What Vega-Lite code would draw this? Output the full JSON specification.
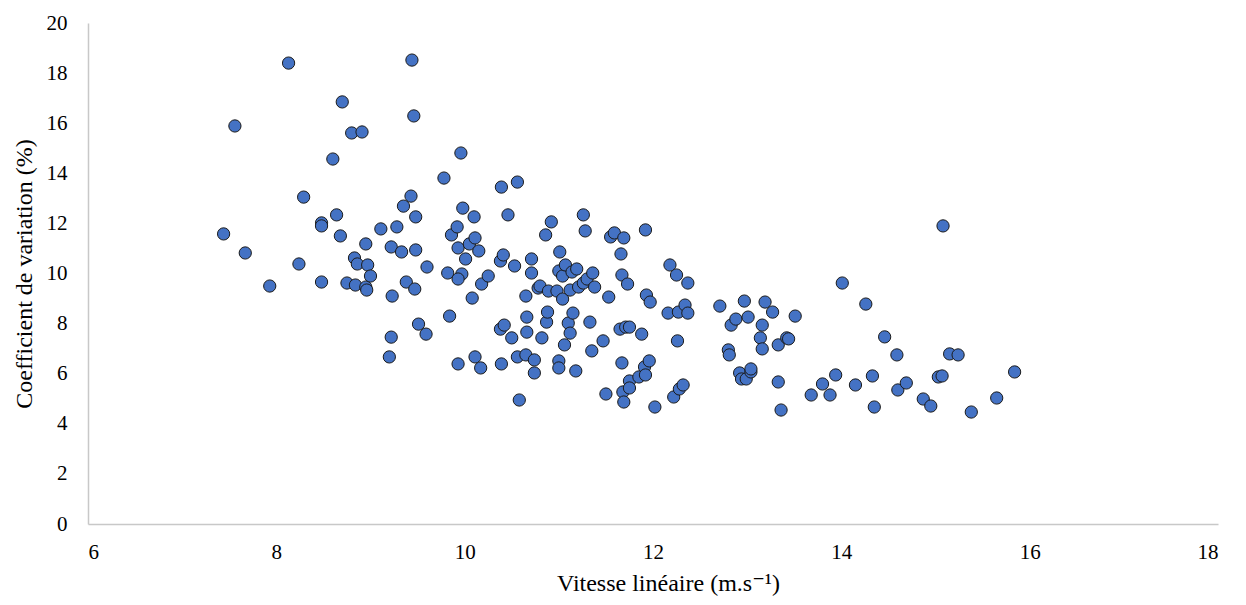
{
  "$schema": "https://vega.github.io/schema/vega-lite/v6.json",
  "width": 1130,
  "height": 501,
  "autosize": "none",
  "padding": {"left": 88, "top": 23, "right": 28, "bottom": 81},
  "background": "white",
  "config": {"view": {"stroke": null}, "font": "'Liberation Serif', 'Times New Roman', 'DejaVu Serif', serif"},
  "data": {"values": [
    {"v":7.44,"cv":11.58},{"v":7.56,"cv":15.89},{"v":7.67,"cv":10.82},{"v":7.93,"cv":9.50},{"v":8.13,"cv":18.40},
    {"v":8.24,"cv":10.38},{"v":8.29,"cv":13.05},{"v":8.48,"cv":12.02},{"v":8.48,"cv":11.90},{"v":8.48,"cv":9.66},
    {"v":8.64,"cv":12.34},{"v":8.60,"cv":14.57},{"v":8.70,"cv":16.85},{"v":8.68,"cv":11.50},{"v":8.75,"cv":9.62},
    {"v":8.80,"cv":15.61},{"v":8.91,"cv":15.65},{"v":8.83,"cv":10.62},{"v":8.86,"cv":10.38},{"v":8.84,"cv":9.54},
    {"v":8.95,"cv":11.18},{"v":8.97,"cv":10.34},{"v":8.95,"cv":9.46},{"v":8.96,"cv":9.34},{"v":9.00,"cv":9.90},
    {"v":9.11,"cv":11.78},{"v":9.22,"cv":11.06},{"v":9.20,"cv":6.67},{"v":9.22,"cv":7.46},{"v":9.23,"cv":9.10},
    {"v":9.28,"cv":11.86},{"v":9.35,"cv":12.69},{"v":9.33,"cv":10.86},{"v":9.38,"cv":9.66},{"v":9.43,"cv":13.09},
    {"v":9.44,"cv":18.52},{"v":9.46,"cv":16.29},{"v":9.48,"cv":12.26},{"v":9.48,"cv":10.94},{"v":9.47,"cv":9.38},
    {"v":9.51,"cv":7.98},{"v":9.59,"cv":7.58},{"v":9.60,"cv":10.26},{"v":9.78,"cv":13.81},{"v":9.82,"cv":10.02},
    {"v":9.84,"cv":8.30},{"v":9.86,"cv":11.54},{"v":9.92,"cv":11.86},{"v":9.93,"cv":6.39},{"v":9.93,"cv":11.02},
    {"v":9.96,"cv":14.81},{"v":9.97,"cv":9.98},{"v":9.98,"cv":12.61},{"v":9.93,"cv":9.78},{"v":10.01,"cv":10.58},
    {"v":10.05,"cv":11.18},{"v":10.10,"cv":12.26},{"v":10.11,"cv":11.42},{"v":10.08,"cv":9.02},{"v":10.11,"cv":6.67},
    {"v":10.15,"cv":10.90},{"v":10.18,"cv":9.58},{"v":10.17,"cv":6.23},{"v":10.25,"cv":9.90},{"v":10.38,"cv":10.50},
    {"v":10.41,"cv":10.74},{"v":10.39,"cv":13.45},{"v":10.38,"cv":7.78},{"v":10.42,"cv":7.94},{"v":10.39,"cv":6.39},
    {"v":10.46,"cv":12.34},{"v":10.50,"cv":7.43},{"v":10.53,"cv":10.30},{"v":10.56,"cv":13.65},{"v":10.56,"cv":6.67},
    {"v":10.58,"cv":4.95},{"v":10.65,"cv":9.10},{"v":10.66,"cv":8.26},{"v":10.66,"cv":7.66},{"v":10.65,"cv":6.75},
    {"v":10.71,"cv":10.58},{"v":10.71,"cv":10.02},{"v":10.74,"cv":6.55},{"v":10.74,"cv":6.03},{"v":10.78,"cv":9.42},
    {"v":10.80,"cv":9.50},{"v":10.82,"cv":7.43},{"v":10.86,"cv":11.54},{"v":10.87,"cv":8.06},{"v":10.88,"cv":8.46},
    {"v":10.89,"cv":9.30},{"v":10.92,"cv":12.06},{"v":10.98,"cv":9.30},{"v":11.01,"cv":10.86},{"v":11.00,"cv":10.10},
    {"v":11.00,"cv":6.51},{"v":11.00,"cv":6.23},{"v":11.04,"cv":8.98},{"v":11.04,"cv":9.90},{"v":11.06,"cv":7.15},
    {"v":11.07,"cv":10.34},{"v":11.10,"cv":8.02},{"v":11.12,"cv":7.62},{"v":11.12,"cv":9.34},{"v":11.14,"cv":10.06},
    {"v":11.15,"cv":8.42},{"v":11.18,"cv":6.11},{"v":11.21,"cv":9.46},{"v":11.19,"cv":10.18},{"v":11.26,"cv":9.62},
    {"v":11.26,"cv":12.34},{"v":11.28,"cv":11.70},{"v":11.30,"cv":9.78},{"v":11.33,"cv":8.06},{"v":11.35,"cv":6.91},
    {"v":11.36,"cv":10.02},{"v":11.38,"cv":9.46},{"v":11.47,"cv":7.31},{"v":11.50,"cv":5.19},{"v":11.53,"cv":9.06},
    {"v":11.55,"cv":11.46},{"v":11.59,"cv":11.62},{"v":11.65,"cv":7.78},{"v":11.66,"cv":10.78},{"v":11.67,"cv":9.94},
    {"v":11.69,"cv":11.42},{"v":11.67,"cv":6.43},{"v":11.68,"cv":5.27},{"v":11.69,"cv":4.87},{"v":11.71,"cv":7.86},
    {"v":11.73,"cv":9.58},{"v":11.75,"cv":7.86},{"v":11.75,"cv":5.71},{"v":11.75,"cv":5.43},{"v":11.88,"cv":7.58},
    {"v":11.85,"cv":5.87},{"v":11.91,"cv":6.27},{"v":11.92,"cv":5.95},{"v":11.93,"cv":9.14},{"v":11.92,"cv":11.74},
    {"v":11.96,"cv":6.51},{"v":11.97,"cv":8.86},{"v":12.02,"cv":4.67},{"v":12.16,"cv":8.42},{"v":12.18,"cv":10.34},
    {"v":12.22,"cv":5.07},{"v":12.25,"cv":9.94},{"v":12.26,"cv":7.31},{"v":12.27,"cv":8.46},{"v":12.28,"cv":5.39},
    {"v":12.32,"cv":5.55},{"v":12.34,"cv":8.74},{"v":12.37,"cv":8.42},{"v":12.37,"cv":9.62},{"v":12.71,"cv":8.70},
    {"v":12.80,"cv":6.95},{"v":12.81,"cv":6.75},{"v":12.83,"cv":7.94},{"v":12.88,"cv":8.18},{"v":12.92,"cv":6.03},
    {"v":12.94,"cv":5.79},{"v":12.97,"cv":8.90},{"v":12.99,"cv":5.79},{"v":13.01,"cv":8.26},{"v":13.04,"cv":6.07},
    {"v":13.04,"cv":6.19},{"v":13.14,"cv":7.43},{"v":13.16,"cv":7.94},{"v":13.16,"cv":6.99},{"v":13.19,"cv":8.86},
    {"v":13.27,"cv":8.46},{"v":13.33,"cv":7.15},{"v":13.33,"cv":5.67},{"v":13.36,"cv":4.55},{"v":13.42,"cv":7.43},
    {"v":13.44,"cv":7.39},{"v":13.51,"cv":8.30},{"v":13.68,"cv":5.15},{"v":13.80,"cv":5.59},{"v":13.88,"cv":5.15},
    {"v":13.94,"cv":5.95},{"v":14.01,"cv":9.62},{"v":14.15,"cv":5.55},{"v":14.26,"cv":8.78},{"v":14.33,"cv":5.91},
    {"v":14.35,"cv":4.67},{"v":14.46,"cv":7.47},{"v":14.59,"cv":6.75},{"v":14.60,"cv":5.35},{"v":14.69,"cv":5.63},
    {"v":14.87,"cv":4.99},{"v":14.95,"cv":4.71},{"v":15.03,"cv":5.87},{"v":15.07,"cv":5.91},{"v":15.08,"cv":11.90},
    {"v":15.15,"cv":6.79},{"v":15.24,"cv":6.75},{"v":15.38,"cv":4.47},{"v":15.65,"cv":5.03},{"v":15.84,"cv":6.07}
  ]},
  "mark": {"type": "point", "shape": "circle", "filled": true, "fill": "#4472C4", "stroke": "#1a1a1a", "strokeWidth": 1, "size": 150, "opacity": 1},
  "encoding": {
    "x": {"field": "v", "type": "quantitative",
      "scale": {"domain": [6, 18], "nice": false, "zero": false},
      "axis": {"values": [6,8,10,12,14,16,18], "grid": false, "ticks": false, "domainColor": "#c8c8c8", "domainWidth": 1.5,
        "labelFont": "'Liberation Serif', 'Times New Roman', 'DejaVu Serif', serif", "labelFontSize": 21, "labelColor": "#000", "labelPadding": 17,
        "title": "Vitesse linéaire (m.s⁻¹)", "titleFont": "'Liberation Serif', 'Times New Roman', 'DejaVu Serif', serif", "titleFontSize": 24, "titleFontWeight": "normal", "titleColor": "#000", "titlePadding": 9, "titleX": 580}},
    "y": {"field": "cv", "type": "quantitative",
      "scale": {"domain": [0, 20], "nice": false},
      "axis": {"values": [0,2,4,6,8,10,12,14,16,18,20], "grid": false, "ticks": false, "domainColor": "#c8c8c8", "domainWidth": 1.5,
        "labelFont": "'Liberation Serif', 'Times New Roman', 'DejaVu Serif', serif", "labelFontSize": 21, "labelColor": "#000", "labelPadding": 21,
        "title": "Coefficient de variation (%)", "titleFont": "'Liberation Serif', 'Times New Roman', 'DejaVu Serif', serif", "titleFontSize": 24, "titleFontWeight": "normal", "titleColor": "#000", "titlePadding": 10}}
  }
}
